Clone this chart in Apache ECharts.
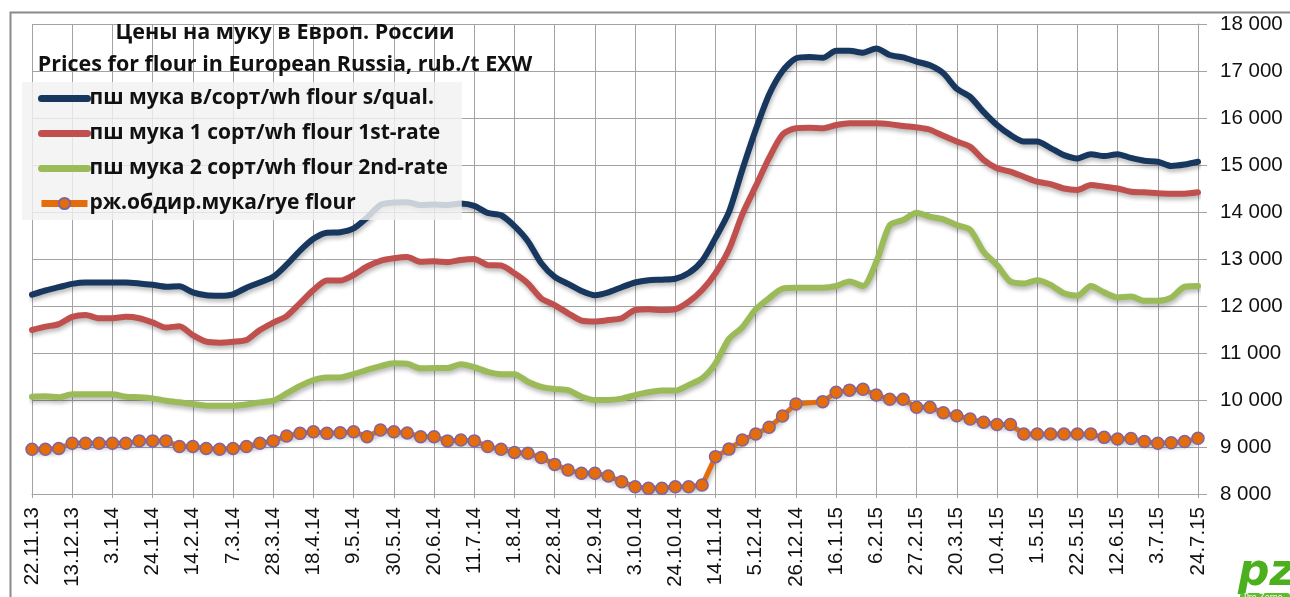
<!DOCTYPE html>
<html>
<head>
<meta charset="utf-8">
<script src="https://cdn.jsdelivr.net/npm/echarts@6/dist/echarts.min.js"></script>
<style>
html,body{margin:0;padding:0;background:#fff;}
#c{width:1290px;height:597px;}
</style>
</head>
<body>
<div id="c"></div>
<script>
var categories = [
'22.11.13','29.11.13','6.12.13','13.12.13','20.12.13','27.12.13',
'3.1.14','10.1.14','17.1.14','24.1.14','31.1.14','7.2.14','14.2.14','21.2.14','28.2.14',
'7.3.14','14.3.14','21.3.14','28.3.14','4.4.14','11.4.14','18.4.14','25.4.14',
'2.5.14','9.5.14','16.5.14','23.5.14','30.5.14','6.6.14','13.6.14','20.6.14','27.6.14',
'4.7.14','11.7.14','18.7.14','25.7.14','1.8.14','8.8.14','15.8.14','22.8.14','29.8.14',
'5.9.14','12.9.14','19.9.14','26.9.14','3.10.14','10.10.14','17.10.14','24.10.14','31.10.14',
'7.11.14','14.11.14','21.11.14','28.11.14','5.12.14','12.12.14','19.12.14','26.12.14',
'2.1.15','9.1.15','16.1.15','23.1.15','30.1.15','6.2.15','13.2.15','20.2.15','27.2.15',
'6.3.15','13.3.15','20.3.15','27.3.15','3.4.15','10.4.15','17.4.15','24.4.15',
'1.5.15','8.5.15','15.5.15','22.5.15','29.5.15','5.6.15','12.6.15','19.6.15','26.6.15',
'3.7.15','10.7.15','17.7.15','24.7.15'
];

var seriesNames = [
'пш мука в/сорт/wh flour s/qual.',
'пш мука 1 сорт/wh flour 1st-rate',
'пш мука 2 сорт/wh flour 2nd-rate',
'рж.обдир.мука/rye flour'
];

var wheatTopGrade = [
12240,12330,12400,12470,12500,12500,12500,12500,12480,12450,12410,12420,12290,12230,12220,
12250,12390,12500,12620,12880,13180,13430,13560,13570,13650,13880,14150,14200,14210,14150,
14160,14150,14180,14130,13980,13930,13700,13380,12910,12620,12470,12320,12230,12290,12400,
12500,12550,12560,12580,12700,12960,13450,14000,14900,15750,16500,17000,17270,17300,17280,
17430,17430,17390,17480,17340,17290,17200,17120,16950,16620,16450,16130,15850,15640,15500,
15500,15360,15210,15140,15230,15190,15230,15150,15090,15070,14980,15010,15070
];

var wheatFirstGrade = [
11490,11560,11615,11770,11810,11740,11740,11770,11740,11650,11540,11570,11380,11240,11220,
11240,11275,11490,11645,11785,12060,12340,12540,12540,12660,12840,12960,13015,13040,12940,
12950,12930,12980,13000,12870,12860,12695,12480,12160,12020,11845,11690,11670,11700,11740,
11915,11930,11915,11930,12090,12340,12700,13200,13950,14550,15150,15650,15780,15790,15780,
15850,15890,15890,15890,15870,15830,15800,15750,15620,15500,15390,15110,14930,14860,14750,
14645,14595,14500,14470,14575,14540,14500,14430,14420,14400,14390,14390,14420
];

var wheatSecondGrade = [
10070,10080,10060,10120,10120,10120,10120,10070,10060,10035,9985,9950,9915,9880,9880,
9880,9905,9950,9985,10140,10300,10425,10480,10480,10550,10640,10720,10780,10770,10675,
10680,10680,10760,10700,10600,10550,10550,10390,10280,10235,10210,10070,10000,10000,10030,
10105,10165,10200,10200,10320,10460,10780,11300,11550,11930,12170,12370,12390,12390,12390,
12425,12520,12425,12940,13720,13830,13985,13900,13845,13720,13620,13155,12870,12520,12480,
12550,12450,12270,12220,12425,12290,12180,12200,12110,12110,12180,12410,12425
];

var ryeFlour = [
8950,8950,8970,9080,9080,9080,9080,9080,9130,9130,9130,9010,9010,8970,8950,
8970,9010,9080,9130,9235,9290,9325,9290,9305,9325,9220,9360,9325,9300,9220,
9220,9130,9150,9130,9010,8950,8885,8865,8775,8630,8510,8440,8440,8385,8260,
8155,8120,8120,8155,8155,8190,8795,8955,9150,9275,9420,9660,9915,null,9965,
10165,10210,10230,10105,10015,10015,9845,9845,9730,9665,9595,9525,9480,9480,9275,
9275,9275,9275,9275,9275,9205,9170,9180,9115,9080,9090,9115,9185
];

var yMin = 8000, yMax = 18000, yStep = 1000;

var colors = ['#17375E', '#C0504D', '#9BBB59', '#E46C0A'];
var markerBorder = '#8064A2';
var gridColor = '#a3a3a3';
var shadow = {shadowColor:'rgba(0,0,0,0.28)', shadowBlur:4, shadowOffsetX:1, shadowOffsetY:3};

function lineSeries(name, data, color){
  return {
    name: name, type: 'line', data: data, smooth: 0.25,
    symbol: 'none', showSymbol: false,
    lineStyle: Object.assign({color: color, width: 6, cap:'round', join:'round'}, shadow),
    itemStyle: {color: color},
    emphasis: {disabled: true}
  };
}

var hiddenSym = {color:'rgba(0,0,0,0)', borderWidth:0, opacity:0};

var chart = echarts.init(document.getElementById('c'), null, {renderer:'canvas'});
chart.setOption({
  animation: false,
  backgroundColor: '#ffffff',
  title: {
    text: 'Цены на муку в Европ. России\nPrices for flour in European Russia, rub./t EXW',
    left: 280, top: 12, textAlign: 'center',
    textStyle: {fontFamily:'Open Sans', fontWeight:'bold', fontSize:21.5, lineHeight:32, color:'#111'}
  },
  legend: {
    orient: 'vertical', left: 22, top: 82,
    padding: [6, 14, 6, 16],
    itemWidth: 46, itemHeight: 14, itemGap: 14,
    backgroundColor: 'rgba(242,242,242,0.82)',
    textStyle: {fontFamily:'Open Sans', fontWeight:'bold', fontSize:21, color:'#111', padding:[0,0,0,-3]},
    data: [
      {name: seriesNames[0], itemStyle: hiddenSym, lineStyle: {width: 7, color: colors[0], shadowBlur:0, shadowOffsetY:0}},
      {name: seriesNames[1], itemStyle: hiddenSym, lineStyle: {width: 7, color: colors[1], shadowBlur:0, shadowOffsetY:0}},
      {name: seriesNames[2], itemStyle: hiddenSym, lineStyle: {width: 7, color: colors[2], shadowBlur:0, shadowOffsetY:0}},
      {name: seriesNames[3], lineStyle: {width: 7, color: colors[3], shadowBlur:0, shadowOffsetY:0}}
    ]
  },
  grid: {left: 32, right: 92, top: 24, bottom: 103, containLabel: false},
  xAxis: {
    type: 'category', data: categories, boundaryGap: false,
    axisLine: {show: true, lineStyle: {color: gridColor, width: 1}},
    axisTick: {show: true, interval: 2, length: 4, lineStyle: {color: gridColor}},
    axisLabel: {interval: 2, rotate: 90, margin: 13, fontFamily:'Liberation Sans', fontSize: 20.5, color:'#111'},
    splitLine: {show: true, interval: 2, lineStyle: {color: gridColor, width: 1}}
  },
  yAxis: {
    type: 'value', position: 'right', min: yMin, max: yMax, interval: yStep,
    axisLine: {show: true, lineStyle: {color: gridColor}},
    axisTick: {show: true, length: 9, lineStyle: {color: gridColor}},
    axisLabel: {margin: 22, fontFamily:'Liberation Sans', fontSize: 20.5, color:'#111',
      formatter: function(v){ return String(v).replace(/\B(?=(\d{3})+(?!\d))/g, ' '); }},
    splitLine: {show: true, lineStyle: {color: gridColor, width: 1}}
  },
  series: [
    lineSeries(seriesNames[0], wheatTopGrade, colors[0]),
    lineSeries(seriesNames[1], wheatFirstGrade, colors[1]),
    lineSeries(seriesNames[2], wheatSecondGrade, colors[2]),
    {
      name: seriesNames[3], type: 'line', data: ryeFlour, connectNulls: true,
      symbol: 'circle', symbolSize: 12, showSymbol: true, showAllSymbol: true,
      lineStyle: Object.assign({color: colors[3], width: 5, join:'round'}, shadow),
      itemStyle: {color: colors[3], borderColor: markerBorder, borderWidth: 1.5},
      emphasis: {disabled: true}
    }
  ],
  graphic: [
    {type:'rect', left: 8, top: 10, z: 100, silent: true,
     shape:{x:0, y:0, width: 1300, height: 620},
     style:{fill: 'none', stroke: '#8a8a8a', lineWidth: 2}},
    {type:'group', left: 1238, top: 552, z: 100, children: [
      {type:'text', x: 0, y: -8, style:{text:'pz', fontFamily:'DejaVu Sans', fontWeight:'bold', fontStyle:'italic', fontSize: 44, fill:'#4caf1e'}},
      {type:'rect', shape:{x:2, y:33, width:50, height:10, r:3}, style:{fill:'#5bbf2a'}},
      {type:'text', x: 6, y: 34, style:{text:'Pro Zerno', fontFamily:'DejaVu Sans', fontSize: 8, fill:'#ffffff'}}
    ]}
  ]
});
</script>
</body>
</html>
